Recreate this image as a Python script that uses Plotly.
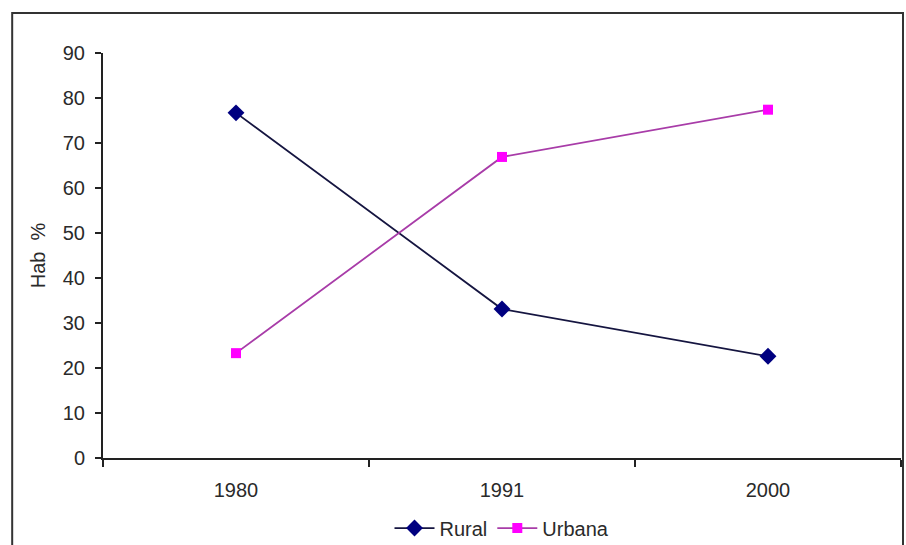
import plotly.graph_objects as go

# Population share by area (%)
years = ["1980", "1991", "2000"]
rural = [76.7, 33.1, 22.6]
urbana = [23.3, 66.9, 77.4]
y_ticks = [0, 10, 20, 30, 40, 50, 60, 70, 80, 90]

pos = list(range(len(years)))
bounds = [p - 0.5 for p in pos] + [pos[-1] + 0.5]

font_family = "Liberation Sans, Arial, sans-serif"

fig = go.Figure()
fig.add_trace(go.Scatter(
    x=pos, y=rural, name="Rural", mode="lines+markers",
    line=dict(color="#151540", width=1.8),
    marker=dict(symbol="diamond", size=13, color="#000080"),
))
fig.add_trace(go.Scatter(
    x=pos, y=urbana, name="Urbana", mode="lines+markers",
    line=dict(color="#a83ca8", width=1.8),
    marker=dict(symbol="square", size=10, color="#ff00ff"),
))

fig.update_layout(
    width=906, height=545,
    margin=dict(l=103, r=5, t=53, b=87, autoexpand=False),
    paper_bgcolor="white", plot_bgcolor="white",
    font=dict(family=font_family, size=19, color="#2a2a2a"),
    showlegend=True,
    legend=dict(orientation="h", x=0.5, xanchor="center", y=-0.173, yanchor="middle",
                font=dict(size=20), itemwidth=40, tracegroupgap=0),
    xaxis=dict(
        range=[bounds[0], bounds[-1]],
        tickmode="array", tickvals=pos, ticktext=years, ticks="",
        ticklabelstandoff=13, tickfont=dict(size=20),
        showgrid=False, zeroline=False,
        showline=True, linecolor="#222222", linewidth=2,
        minor=dict(tickmode="array", tickvals=bounds, ticks="outside",
                   ticklen=7, tickwidth=2, tickcolor="#222222", showgrid=False),
    ),
    yaxis=dict(
        range=[0, 90], tickmode="array", tickvals=y_ticks,
        ticks="outside", ticklen=6, tickwidth=2, tickcolor="#222222",
        ticklabelstandoff=6, tickfont=dict(size=20),
        showgrid=False, zeroline=False,
        showline=True, linecolor="#222222", linewidth=2,
        title=dict(text="Hab  %", font=dict(size=20), standoff=12),
    ),
    shapes=[dict(type="rect", xref="paper", yref="paper",
                 x0=-0.1138, x1=1.0025, y0=-0.3, y1=1.0988,
                 line=dict(color="#333333", width=2), layer="below")],
)

fig.write_html("out.html")
